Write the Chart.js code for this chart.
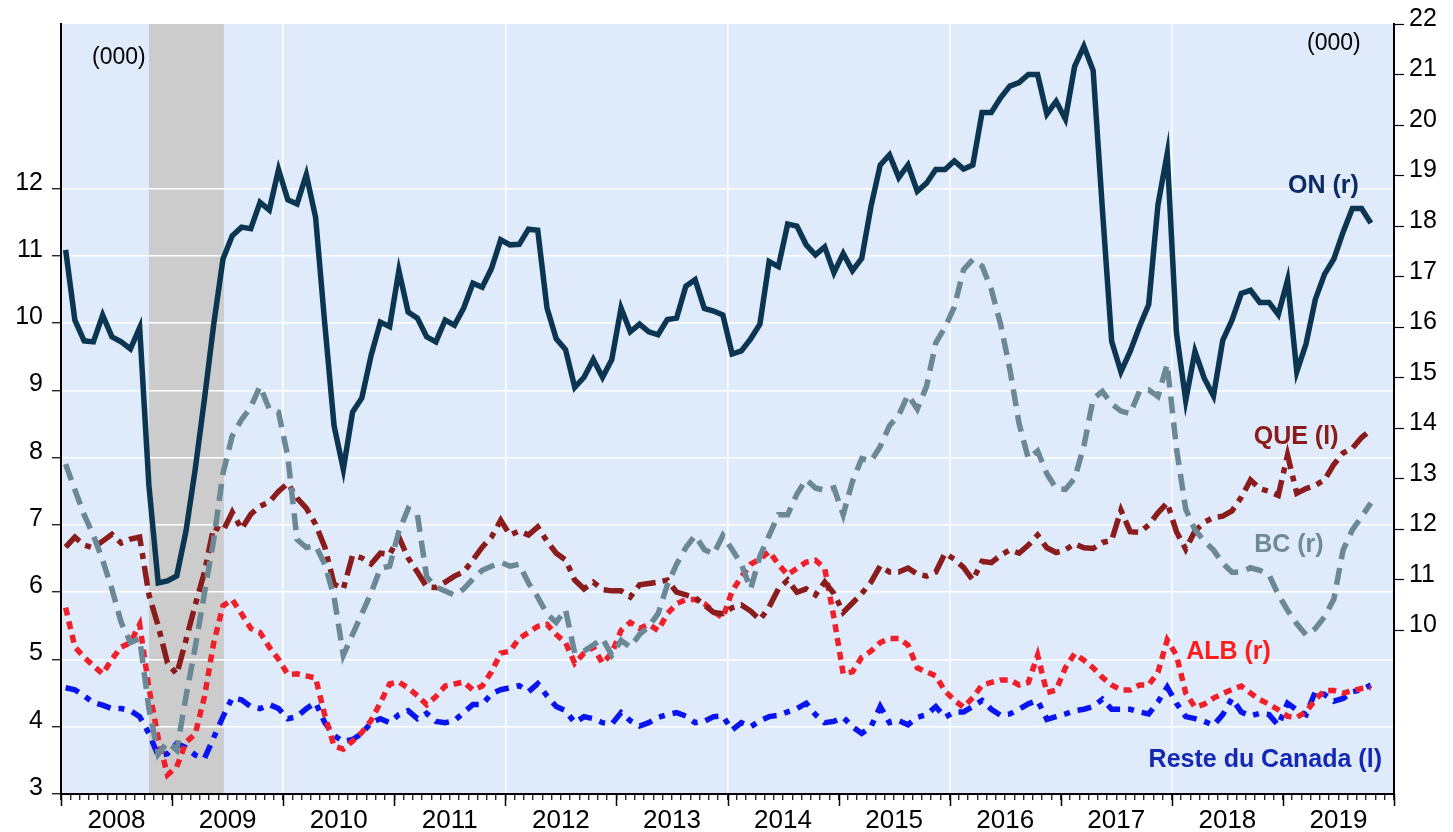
<!DOCTYPE html>
<html>
<head>
<meta charset="utf-8">
<script src="https://cdn.jsdelivr.net/npm/chart.js@4.4.1/dist/chart.umd.min.js"></script>
<style>
  body { margin: 0; background: #ffffff; }
  canvas { display: block; }
</style>
</head>
<body>
<canvas id="grafica" width="1453" height="832"></canvas>
<script>
// etiquetas del eje x (años) y datos mensuales desde enero 2008
const annees = ['2008','2009','2010','2011','2012','2013','2014','2015','2016','2017','2018','2019'];

// Ontario (000), eje derecho
const on = [17.53,16.14,15.73,15.71,16.24,15.81,15.71,15.57,15.99,12.86,10.94,10.98,
  11.08,11.96,13.19,14.58,16.06,17.35,17.81,17.98,17.95,18.47,18.32,19.12,
  18.52,18.44,19.02,18.18,16.06,14.05,13.19,14.32,14.60,15.44,16.10,16.01,
  17.12,16.30,16.18,15.81,15.71,16.14,16.04,16.38,16.87,16.79,17.16,17.73,
  17.63,17.64,17.94,17.92,16.38,15.77,15.56,14.81,15.01,15.36,15.01,15.36,
  16.38,15.91,16.06,15.91,15.85,16.15,16.18,16.81,16.94,16.37,16.32,16.24,
  15.47,15.53,15.77,16.06,17.30,17.20,18.04,18.00,17.63,17.43,17.59,17.08,
  17.46,17.12,17.36,18.39,19.21,19.41,18.96,19.21,18.69,18.85,19.12,19.12,
  19.29,19.13,19.21,20.25,20.25,20.54,20.77,20.84,21.00,21.00,20.22,20.47,
  20.12,21.16,21.56,21.08,18.33,15.72,15.12,15.52,16.01,16.45,18.42,19.43,
  15.89,14.55,15.52,14.99,14.64,15.74,16.14,16.67,16.73,16.49,16.49,16.25,
  16.93,15.12,15.67,16.55,17.05,17.35,17.88,18.35,18.35,18.06];

// Québec (000), eje izquierdo
const que = [6.67,6.82,6.70,6.66,6.76,6.86,6.73,6.79,6.82,5.96,5.50,4.95,
  4.78,5.29,5.81,6.30,6.97,6.91,7.19,6.94,7.16,7.28,7.34,7.50,
  7.62,7.40,7.25,7.01,6.67,6.12,6.05,6.55,6.51,6.42,6.58,6.56,
  6.82,6.51,6.30,6.08,6.07,6.15,6.24,6.30,6.48,6.67,6.82,7.07,
  6.85,6.91,6.85,6.97,6.76,6.58,6.48,6.18,6.05,6.15,6.04,6.02,
  6.02,5.93,6.11,6.13,6.15,6.18,6.00,5.96,5.92,5.81,5.70,5.68,
  5.77,5.81,5.72,5.59,5.78,6.05,6.18,6.00,6.05,5.96,6.15,5.98,
  5.70,5.84,5.98,6.15,6.39,6.30,6.30,6.36,6.27,6.24,6.30,6.58,
  6.49,6.37,6.18,6.46,6.44,6.55,6.63,6.58,6.70,6.85,6.66,6.59,
  6.63,6.72,6.66,6.65,6.74,6.77,7.22,6.90,6.89,7.00,7.18,7.33,
  6.90,6.64,6.91,7.04,7.11,7.13,7.21,7.41,7.67,7.54,7.50,7.44,
  8.04,7.47,7.54,7.59,7.67,7.90,8.07,8.14,8.30,8.41];

// Colombie-Britannique (000), eje derecho
const bc = [13.29,12.78,12.29,11.88,11.39,10.82,10.16,9.76,9.84,8.45,7.55,7.79,
  7.63,8.69,9.67,10.74,11.80,13.11,13.85,14.17,14.42,14.83,14.38,14.32,
  13.44,11.80,11.64,11.68,11.31,10.66,9.51,9.92,10.33,10.74,11.23,11.27,
  11.96,12.41,12.29,11.06,10.86,10.78,10.70,10.82,11.02,11.19,11.27,11.35,
  11.27,11.31,10.94,10.66,10.33,10.16,10.41,9.55,9.59,9.71,9.84,9.51,
  9.80,9.67,9.92,10.08,10.33,10.90,11.31,11.64,11.88,11.60,11.51,11.88,
  11.60,11.31,10.82,11.47,11.88,12.29,12.29,12.70,12.99,12.82,12.77,12.82,
  12.29,12.95,13.40,13.35,13.64,14.05,14.26,14.66,14.38,14.83,15.69,16.00,
  16.40,17.14,17.34,17.21,16.75,16.06,15.17,14.09,13.40,13.55,13.10,12.81,
  12.79,13.01,13.65,14.58,14.73,14.48,14.34,14.29,14.73,14.76,14.63,15.27,
  13.60,12.40,11.99,11.77,11.59,11.33,11.15,11.15,11.24,11.19,11.10,10.71,
  10.40,10.13,9.91,10.04,10.27,10.62,11.59,11.99,12.25,12.52];

// Alberta (000), eje derecho
const alb = [10.45,9.67,9.47,9.30,9.14,9.43,9.67,9.76,10.12,8.86,7.87,7.14,
  7.30,7.79,7.95,8.69,9.76,10.49,10.61,10.33,10.04,9.96,9.67,9.43,
  9.13,9.14,9.10,9.06,8.32,7.71,7.65,7.81,7.98,8.22,8.57,8.94,
  8.98,8.86,8.71,8.53,8.69,8.90,8.94,8.98,8.82,8.90,9.18,9.55,
  9.59,9.84,9.96,10.08,10.12,9.92,9.76,9.35,9.55,9.67,9.35,9.55,
  10.00,10.16,10.04,10.12,10.00,10.33,10.53,10.61,10.61,10.53,10.37,10.25,
  10.78,11.06,11.31,11.41,11.56,11.31,11.10,11.23,11.35,11.39,11.23,10.25,
  9.14,9.18,9.47,9.59,9.76,9.84,9.84,9.71,9.26,9.18,9.10,8.80,
  8.62,8.48,8.67,8.92,8.97,9.02,9.02,8.92,8.97,9.51,8.77,8.82,
  9.26,9.54,9.41,9.26,9.07,8.92,8.82,8.82,8.92,8.92,9.17,9.81,
  9.51,8.76,8.48,8.54,8.66,8.75,8.83,8.90,8.76,8.63,8.54,8.43,
  8.30,8.28,8.39,8.63,8.81,8.81,8.76,8.81,8.85,8.87];

// Reste du Canada (000), eje izquierdo
const reste = [4.58,4.55,4.46,4.36,4.32,4.27,4.27,4.24,4.15,3.90,3.57,3.60,
  3.75,3.69,3.58,3.53,3.84,4.15,4.43,4.40,4.30,4.27,4.33,4.27,
  4.12,4.15,4.27,4.36,4.06,3.87,3.78,3.81,3.90,4.06,4.12,4.06,
  4.18,4.24,4.12,4.20,4.08,4.06,4.09,4.21,4.33,4.33,4.49,4.55,
  4.58,4.61,4.52,4.64,4.46,4.30,4.24,4.06,4.15,4.12,4.06,4.04,
  4.21,4.09,4.01,4.06,4.14,4.18,4.21,4.16,4.06,4.08,4.15,4.16,
  3.95,4.06,4.00,4.09,4.15,4.17,4.22,4.27,4.35,4.18,4.06,4.08,
  4.14,4.00,3.90,4.00,4.30,4.06,4.09,4.03,4.14,4.18,4.30,4.14,
  4.22,4.22,4.30,4.39,4.26,4.17,4.19,4.26,4.34,4.39,4.11,4.15,
  4.19,4.24,4.26,4.30,4.41,4.26,4.26,4.26,4.22,4.19,4.37,4.59,
  4.35,4.15,4.12,4.08,4.02,4.18,4.42,4.22,4.16,4.20,4.18,4.02,
  4.35,4.25,4.18,4.52,4.48,4.38,4.42,4.52,4.55,4.62];

// récession: octobre 2008 à juin 2009 (index de mois)
const recession = [9.5, 17.6];

Chart.defaults.font.family = '"Liberation Sans", Arial, sans-serif';
Chart.defaults.color = '#000000';

const mois = v => v.map((y, i) => ({ x: i + 0.5, y: y }));

const fondo = {
  id: 'fondo',
  beforeDraw(chart) {
    const { ctx, chartArea: a, scales } = chart;
    ctx.save();
    ctx.fillStyle = '#dfeafb';
    ctx.fillRect(a.left, a.top, a.right - a.left, a.bottom - a.top);
    const x0 = scales.x.getPixelForValue(recession[0]);
    const x1 = scales.x.getPixelForValue(recession[1]);
    ctx.fillStyle = '#cccccc';
    ctx.fillRect(x0, a.top, x1 - x0, a.bottom - a.top);
    ctx.restore();
  }
};

const textos = {
  id: 'textos',
  afterDraw(chart) {
    const { ctx, chartArea: a, scales } = chart;
    const x = scales.x, yl = scales.yL, yr = scales.yR;
    ctx.save();
    // ticks annuels plus longs
    ctx.strokeStyle = '#000';
    ctx.lineWidth = 1.5;
    for (let m = 0; m <= 144; m += 12) {
      const px = Math.round(x.getPixelForValue(m)) + 0.5;
      ctx.beginPath();
      ctx.moveTo(px, a.bottom);
      ctx.lineTo(px, a.bottom + 12);
      ctx.stroke();
    }
    ctx.textBaseline = 'middle';
    ctx.font = '23px "Liberation Sans", Arial, sans-serif';
    ctx.fillStyle = '#000';
    ctx.textAlign = 'left';
    ctx.fillText('(000)', x.getPixelForValue(3.35), yl.getPixelForValue(13.95));
    ctx.textAlign = 'right';
    ctx.fillText('(000)', x.getPixelForValue(140.4), yr.getPixelForValue(21.62));

    ctx.font = 'bold 25px "Liberation Sans", Arial, sans-serif';
    const etiq = [
      ['ON (r)', '#0c2c66', 140.2, yr, 18.8],
      ['QUE (l)', '#8b1a1a', 138.0, yl, 8.31],
      ['BC (r)', '#6e8a96', 136.4, yr, 11.68],
      ['ALB (r)', '#ff1c1c', 130.7, yr, 9.57],
      ['Reste du Canada (l)', '#1428b4', 142.7, yl, 3.5]
    ];
    for (const e of etiq) {
      ctx.fillStyle = e[1];
      ctx.fillText(e[0], x.getPixelForValue(e[2]), e[3].getPixelForValue(e[4]));
    }
    ctx.restore();
  }
};

new Chart('grafica', {
  type: 'line',
  data: {
    datasets: [
      { label: 'ON', data: mois(on), yAxisID: 'yR', borderColor: '#0b3550', order: 0 },
      { label: 'QUE', data: mois(que), yAxisID: 'yL', borderColor: '#8b1c1c', borderDash: [20, 7, 6, 7], order: 2 },
      { label: 'BC', data: mois(bc), yAxisID: 'yR', borderColor: '#6a8895', borderDash: [17, 9], order: 1 },
      { label: 'ALB', data: mois(alb), yAxisID: 'yR', borderColor: '#f0202a', borderDash: [8, 6], order: 3 },
      { label: 'Reste', data: mois(reste), yAxisID: 'yL', borderColor: '#0a14f0', borderDash: [14, 8, 6, 8], order: 4 }
    ]
  },
  options: {
    responsive: false,
    animation: false,
    layout: { padding: { top: 23, left: 0, right: 0, bottom: 0 } },
    plugins: { legend: { display: false }, tooltip: { enabled: false } },
    elements: {
      point: { radius: 0 },
      line: { tension: 0, borderWidth: 5.5, borderCapStyle: 'butt', fill: false }
    },
    scales: {
      x: {
        type: 'linear', min: 0, max: 144,
        afterBuildTicks: s => { s.ticks = []; for (let m = 0; m <= 144; m++) s.ticks.push({ value: m }); },
        afterFit: s => { s.height = 38; },
        ticks: {
          autoSkip: false, maxRotation: 0, minRotation: 0, padding: 5,
          font: { size: 26 },
          callback: v => (v % 12 === 6 ? annees[(v - 6) / 12] : '')
        },
        grid: {
          color: c => (c.tick && c.tick.value % 24 === 0 && c.tick.value > 0 && c.tick.value < 144) ? '#ffffff' : 'rgba(0,0,0,0)',
          lineWidth: 1.5, tickColor: '#000', tickLength: 6, tickWidth: 1.2
        },
        border: { display: true, color: '#000', width: 2 }
      },
      yL: {
        position: 'left', min: 3, max: 14.448,
        afterBuildTicks: s => { s.ticks = []; for (let v = 3; v <= 12; v++) s.ticks.push({ value: v }); },
        afterFit: s => { s.width = 61; },
        ticks: { font: { size: 25 }, padding: 9, labelOffset: -6 },
        grid: { color: '#ffffff', lineWidth: 1.5, tickColor: '#000', tickLength: 9, tickWidth: 1.2 },
        border: { display: true, color: '#000', width: 2 }
      },
      yR: {
        position: 'right', min: 6.763, max: 22,
        afterBuildTicks: s => { s.ticks = []; for (let v = 10; v <= 22; v++) s.ticks.push({ value: v }); },
        afterFit: s => { s.width = 59; },
        ticks: { font: { size: 25 }, padding: 5, labelOffset: -5 },
        grid: { drawOnChartArea: false, tickColor: '#000', tickLength: 10, tickWidth: 1.2 },
        border: { display: true, color: '#000', width: 2 }
      }
    }
  },
  plugins: [fondo, textos]
});
</script>
</body>
</html>
